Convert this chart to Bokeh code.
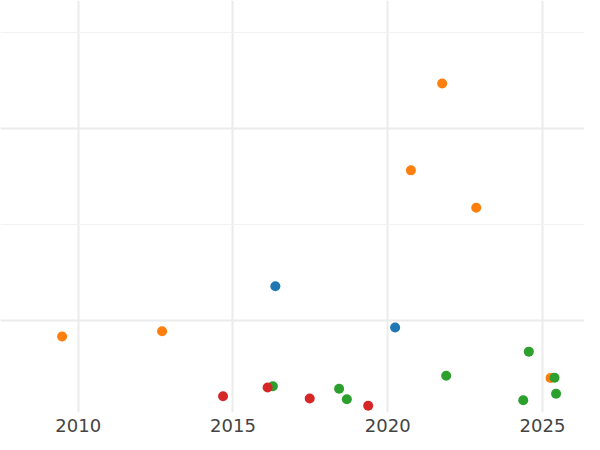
from bokeh.plotting import figure
from bokeh.models import Range1d, FixedTicker
from bokeh.embed import file_html
from bokeh.resources import INLINE

# Data (x = year, y = value) by series
blue_x = [2016.37, 2020.24]
blue_y = [118.0, 96.6]

orange_x = [2009.48, 2012.71, 2020.75, 2021.76, 2022.86, 2025.26]
orange_y = [91.9, 94.6, 178.4, 223.6, 158.9, 70.3]

green_x = [2016.29, 2018.43, 2018.68, 2021.89, 2024.38, 2024.56, 2025.39, 2025.44]
green_y = [66.0, 64.7, 59.2, 71.4, 58.7, 84.0, 70.4, 62.1]

red_x = [2014.68, 2016.12, 2017.48, 2019.37]
red_y = [60.8, 65.3, 59.6, 55.8]

x_ticks = [2010, 2015, 2020, 2025]
y_major = [100, 200]
y_minor = [50, 150, 250]

p = figure(width=584, height=434, output_backend="svg", toolbar_location=None,
           x_range=Range1d(2007.489, 2026.359), y_range=Range1d(52.3, 266.85),
           min_border_left=0, min_border_right=0, min_border_top=0, min_border_bottom=16)
p.outline_line_color = None
p.background_fill_color = "white"
p.border_fill_color = "white"

p.xaxis.ticker = FixedTicker(ticks=x_ticks)
p.xaxis.axis_line_color = None
p.xaxis.major_tick_line_color = None
p.xaxis.minor_tick_line_color = None
p.xaxis.major_label_text_font = "DejaVu Sans"
p.xaxis.major_label_text_font_size = "18px"
p.xaxis.major_label_text_color = "#444444"
p.xaxis.major_label_standoff = 0

p.yaxis.ticker = FixedTicker(ticks=y_major, minor_ticks=y_minor)
p.yaxis.visible = False

p.xgrid.grid_line_color = "#ebebeb"
p.xgrid.grid_line_width = 2
p.ygrid.grid_line_color = "#ebebeb"
p.ygrid.grid_line_width = 2
p.ygrid.minor_grid_line_color = "#f2f2f2"
p.ygrid.minor_grid_line_width = 1

for xs, ys, c in [(blue_x, blue_y, "#1f77b4"), (orange_x, orange_y, "#ff7f0e"),
                  (green_x, green_y, "#2ca02c"), (red_x, red_y, "#d62728")]:
    p.scatter(xs, ys, size=10, fill_color=c, line_color=None)

open("out.html", "w").write(file_html(p, INLINE))
